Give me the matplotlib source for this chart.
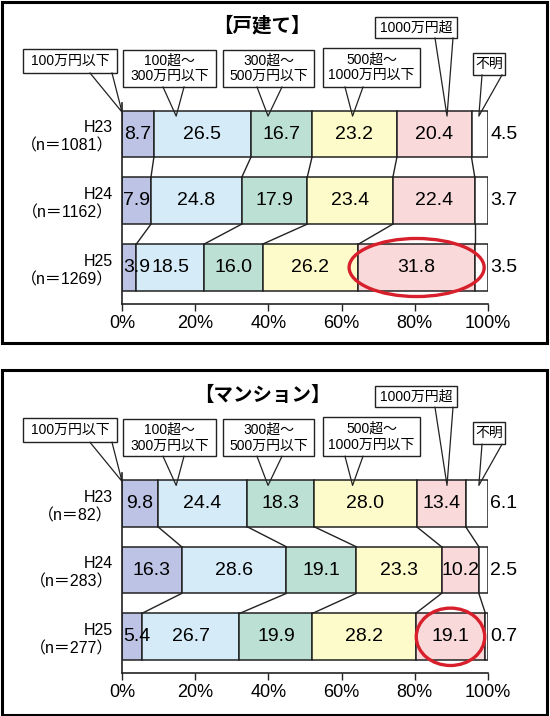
#住宅リフォーム費用の分布（戸建て・マンション）

import matplotlib
matplotlib.use('Agg')
import matplotlib.pyplot as plt
from matplotlib.patches import Rectangle, Ellipse
from matplotlib.lines import Line2D
from matplotlib.ticker import PercentFormatter
from itertools import accumulate

plt.rcParams['font.family'] = ['Liberation Sans', 'Noto Sans CJK JP']

#データ
years = ['H23', 'H24', 'H25']
categories = ['100万円以下', '100超～\n300万円以下', '300超～\n500万円以下',
              '500超～\n1000万円以下', '1000万円超', '不明']
colors = ['#bcc3e4', '#d5ebf8', '#bce0d3', '#fdfbc9', '#f9d9d9', '#ffffff']

house_n = [1081, 1162, 1269]
house_h23 = [8.7, 26.5, 16.7, 23.2, 20.4, 4.5]
house_h24 = [7.9, 24.8, 17.9, 23.4, 22.4, 3.7]
house_h25 = [3.9, 18.5, 16.0, 26.2, 31.8, 3.5]

mansion_n = [82, 283, 277]
mansion_h23 = [9.8, 24.4, 18.3, 28.0, 13.4, 6.1]
mansion_h24 = [16.3, 28.6, 19.1, 23.3, 10.2, 2.5]
mansion_h25 = [5.4, 26.7, 19.9, 28.2, 19.1, 0.7]

W, H = 550, 716
fig = plt.figure(figsize=(W / 100, H / 100), dpi=100)
fig.patch.set_facecolor('white')

def fx(x):
    return x / W

def fy(y):
    return 1 - y / H

#吹き出しの位置（ピクセル）
boxes = [(23, 49, 117, 73), (123, 50, 216, 87), (223, 50, 314, 87),
         (323, 48, 420, 87), (375, 17, 457, 38), (473, 53, 505, 75)]
bases = [(90, 112), (163, 184), (257, 282), (345, 363), (435, 453), (482, 502)]
tips = [(0.0, -0.33), (14.8, -0.27), (39.9, -0.27), (63.0, -0.27), (88.8, -0.27), (97.5, -0.27)]
edge = '#222222'

def draw_panel(rows, ns, title, dy, ell_w, ell_h):
    ax = fig.add_axes([fx(122), fy(304 + dy), 366 / W, (304 - 103.4) / H])
    for i, row in enumerate(rows):
        left = 0
        for k, v in enumerate(row):
            ax.barh(i, v, left=left, height=0.7, color=colors[k], edgecolor=edge, linewidth=1.1)
            if k == 5:
                ax.text(100.6, i, f'{v:.1f}', ha='left', va='center', fontsize=14)
            elif v < 8:
                ax.text(0.4, i, f'{v:.1f}', ha='left', va='center', fontsize=14)
            else:
                ax.text(left + v / 2, i, f'{v:.1f}', ha='center', va='center', fontsize=14)
            left += v
    #系列線
    for i in range(len(rows) - 1):
        c1 = list(accumulate(rows[i]))[:5]
        c2 = list(accumulate(rows[i + 1]))[:5]
        for a, b in zip(c1, c2):
            ax.plot([a, b], [i + 0.35, i + 1 - 0.35], color=edge, linewidth=1)
    ax.set_xlim(0, 100)
    ax.set_ylim(2.547, -0.46)
    ax.set_xticks(range(0, 101, 20))
    ax.xaxis.set_major_formatter(PercentFormatter(decimals=0))
    ax.tick_params(axis='x', direction='out', length=5, width=1, labelsize=13, pad=3, color=edge)
    ax.set_yticks(range(len(years)))
    ax.tick_params(axis='y', length=0, pad=6.5, labelsize=11.5)
    ax.set_yticklabels([f'{y}\n（n＝{n}）' for y, n in zip(years, ns)])
    for lab in ax.get_yticklabels():
        lab.set_linespacing(1.25)
        lab.set_fontsize(11.5)
    for s in ['top', 'right']:
        ax.spines[s].set_visible(False)
    for s in ['left', 'bottom']:
        ax.spines[s].set_linewidth(1.2)
        ax.spines[s].set_color(edge)
    #赤丸
    last = rows[-1]
    cx = sum(last[:4]) + last[4] / 2
    ax.add_patch(Ellipse((cx, 2), ell_w, ell_h, fill=False, edgecolor='#d7202c',
                         linewidth=2.4, clip_on=False, zorder=5))
    #吹き出し
    inv = fig.transFigure.inverted()
    for (x0, y0, x1, y1), (b0, b1), (tx, ty), cat in zip(boxes, bases, tips, categories):
        px, py = inv.transform(ax.transData.transform((tx, ty)))
        by = fy(y1 + dy)
        fig.add_artist(Line2D([fx(b0), px, fx(b1)], [by, py, by], color=edge,
                              linewidth=0.9, transform=fig.transFigure))
        fig.add_artist(Rectangle((fx(x0), fy(y1 + dy)), (x1 - x0) / W, (y1 - y0) / H,
                                 transform=fig.transFigure, facecolor='white',
                                 edgecolor=edge, linewidth=1))
        fig.text(fx((x0 + x1) / 2), fy((y0 + y1) / 2 + dy), cat, ha='center', va='center',
                 fontsize=10, linespacing=1.15)
    fig.text(fx(262), fy(26 + dy), title, ha='center', va='center', fontsize=14,
             fontweight='bold', family=['Noto Sans CJK JP'])
    return ax

draw_panel([house_h23, house_h24, house_h25], house_n, '【戸建て】', 0, 36.9, 0.87)
draw_panel([mansion_h23, mansion_h24, mansion_h25], mansion_n, '【マンション】', 369.3, 18.7, 0.86)

#枠線
fig.add_artist(Rectangle((fx(1.5), fy(343.3)), 545 / W, 341.8 / H, transform=fig.transFigure,
                         fill=False, edgecolor='black', linewidth=2.2))
fig.add_artist(Rectangle((fx(1.5), fy(714.5)), 545 / W, 344.5 / H, transform=fig.transFigure,
                         fill=False, edgecolor='black', linewidth=2.2))

fig.savefig('out.png', dpi=100)
